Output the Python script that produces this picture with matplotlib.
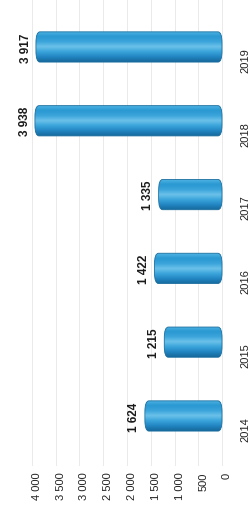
#!/usr/bin/env python3
import numpy as np
import matplotlib
matplotlib.use("Agg")
import matplotlib.pyplot as plt
import matplotlib.colors as mcolors
from matplotlib.patches import FancyBboxPatch

years = ["2014", "2015", "2016", "2017", "2018", "2019"]
values = [1624, 1215, 1422, 1335, 3938, 3917]
value_labels = ["1 624", "1 215", "1 422", "1 335", "3 938", "3 917"]
ticks = [0, 500, 1000, 1500, 2000, 2500, 3000, 3500, 4000]
tick_labels = ["0", "500", "1 000", "1 500", "2 000", "2 500", "3 000", "3 500", "4 000"]

plt.rcParams['font.family'] = ['Liberation Sans Narrow', 'Liberation Sans', 'DejaVu Sans']

fig = plt.figure(figsize=(2.5, 5.1), dpi=100)
# the whole chart is turned on its side: bars run right to left
ax = fig.add_axes([0.10, 0.084, 0.812, 0.916])
ax.set_xlim(4147, -126)
ax.set_ylim(-0.68, 5.65)

ypos = np.arange(len(years))
bar_h = 0.41
bars = ax.barh(ypos, values, height=bar_h, color='none', edgecolor='none')

# cylinder-like shading across the bar thickness
shade = mcolors.LinearSegmentedColormap.from_list(
    "cyl", ["#17699c", "#2286c2", "#3aa4da", "#6cc2ea", "#3aa4da", "#2a98d2", "#4fb4e2"])
grad = np.linspace(0, 1, 64).reshape(-1, 1)

for b in bars:
    x0, y0 = b.get_x(), b.get_y()
    w, h = b.get_width(), b.get_height()
    cap = FancyBboxPatch((x0, y0), w, h,
                         boxstyle="round,pad=0,rounding_size=85",
                         mutation_aspect=0.15 / 85,
                         facecolor='none', edgecolor='#1a6e9f', lw=0.6, zorder=3)
    ax.add_patch(cap)
    im = ax.imshow(grad, cmap=shade, aspect='auto', origin='lower',
                   extent=(x0, x0 + w, y0, y0 + h), zorder=2, interpolation='bilinear')
    im.set_clip_path(cap)

for v, y, lab in zip(values, ypos, value_labels):
    ax.annotate(lab, (v, y), xytext=(-7.5, 0), textcoords='offset points',
                rotation=90, ha='center', va='center', fontsize=8.5,
                fontweight='bold', color='#1a1a1a')

ax.set_xticks(ticks)
ax.set_xticklabels(tick_labels, rotation=90, fontsize=8, color='#222222', ha='left')

ax.set_yticks(ypos)
ax.set_yticklabels(years, rotation=90, fontsize=8, color='#222222', va='top')
ax.tick_params(axis='y', left=False, labelleft=False, right=False, labelright=True,
               length=0, pad=9)
ax.tick_params(axis='x', length=0, pad=4)

ax.grid(axis='x', color='#e6e6e6', lw=0.6)
ax.set_axisbelow(True)
for s in ax.spines.values():
    s.set_visible(False)

fig.savefig("out.png", dpi=100)
